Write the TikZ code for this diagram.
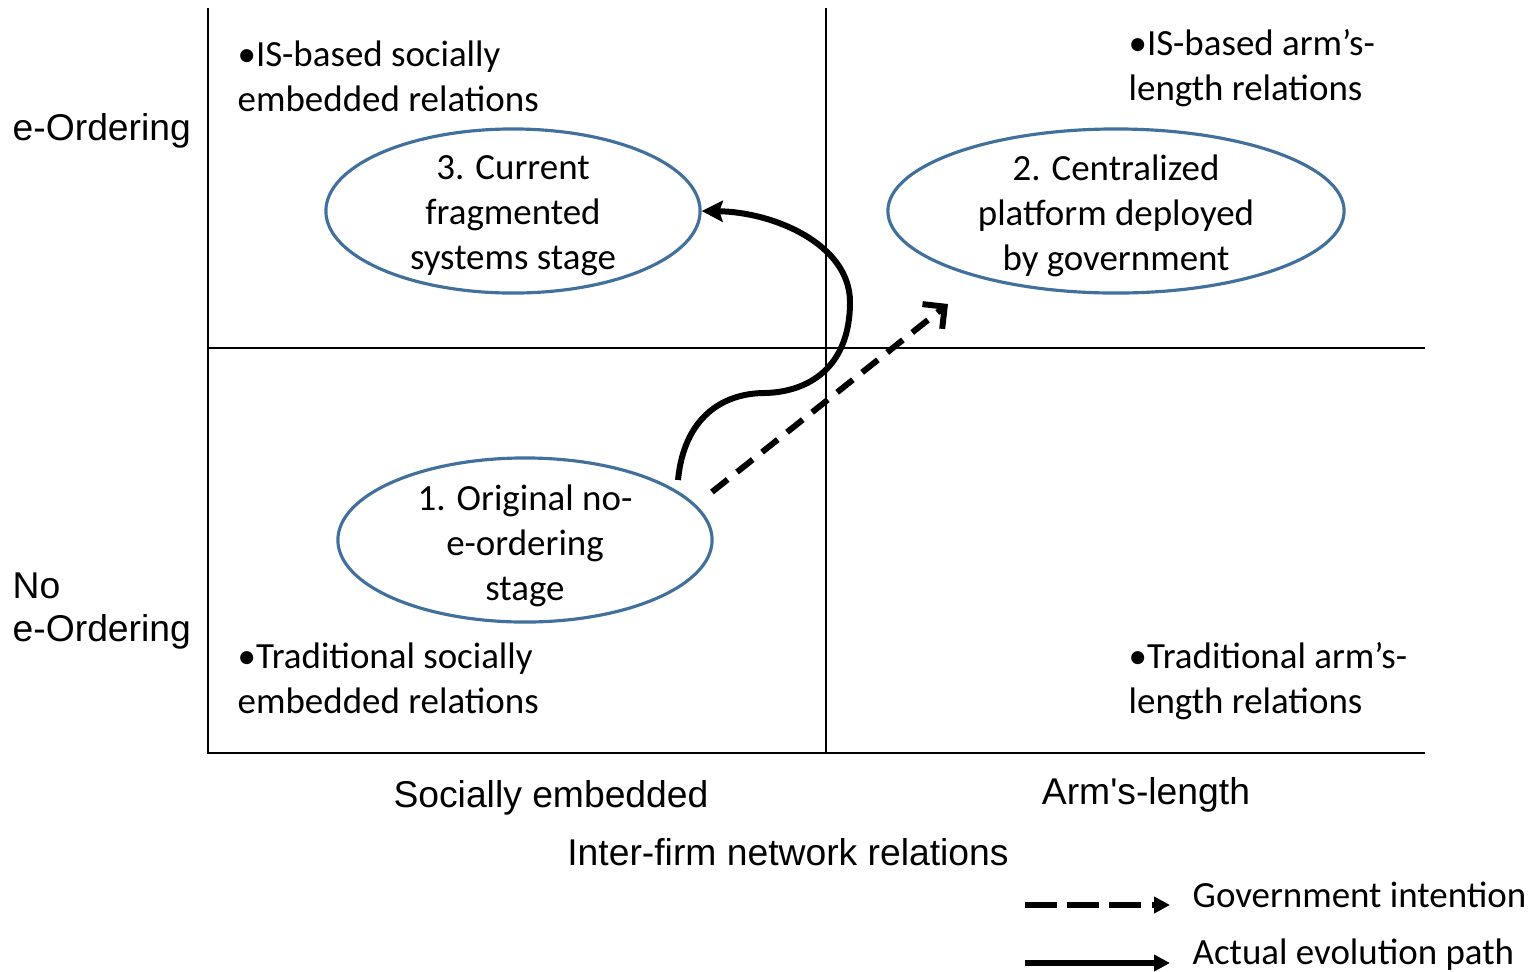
\documentclass[tikz,border=0pt]{standalone}
\usepackage{fontspec}
\setmainfont{Carlito}
\newfontfamily\arialfont{Liberation Sans}
\usetikzlibrary{shapes.geometric,arrows.meta}
\definecolor{stageblue}{HTML}{41709C}
\begin{document}
\begin{tikzpicture}[x=0.01cm,y=-0.01cm,
  gridline/.style={line width=0.5pt},
  stage/.style={ellipse, draw=stageblue, line width=0.9pt, inner sep=0pt, minimum height=1.64cm},
  stagetext/.style={align=center, inner sep=0pt, font=\fontsize{10.5}{12.8}\selectfont},
  cell/.style={anchor=west, align=left, inner sep=0pt, font=\fontsize{10.5}{12.8}\selectfont},
  axis/.style={inner sep=0pt, font=\arialfont\fontsize{10.6}{12.2}\selectfont},
  actual/.style={line width=1.7pt, -{Stealth[length=6pt,width=6pt,inset=1pt]}},
  intended/.style={line width=1.7pt, dash pattern=on 5.7pt off 3.4pt, -{Straight Barb[length=4.5pt,width=9pt]}},
  legendtext/.style={anchor=west, inner sep=0pt, font=\fontsize{10.5}{12.8}\selectfont}
]
\useasboundingbox (0,0) rectangle (1535,972);

% quadrant grid
\draw[gridline] (208,8) -- (208,753) -- (1425,753);
\draw[gridline] (826,8) -- (826,753);
\draw[gridline] (208,348) -- (1425,348);

% row labels
\node[axis, anchor=west] (rowtop) at (12,131) {e-Ordering};
\node[axis, anchor=west, align=left] (rowbot) at (12,611) {No\\e-Ordering};

% column labels
\node[axis] (colleft) at (551,798) {Socially embedded};
\node[axis] (colright) at (1146,795) {Arm's-length};
\node[axis] (colaxis) at (788,852) {Inter-firm network relations};

% quadrant descriptions
\node[cell] (q1) at (237,76) {•IS-based socially\\embedded relations};
\node[cell] (q2) at (1128,68) {•IS-based arm’s-\\length relations};
\node[cell] (q3) at (237,678) {•Traditional socially\\embedded relations};
\node[cell] (q4) at (1128,681) {•Traditional arm’s-\\length relations};

% stages
\node[stage, minimum width=3.74cm] (s3) at (513,211) {};
\node[stagetext] (s3t) at (513,216) {3. Current\\fragmented\\systems stage};
\node[stage, minimum width=4.56cm] (s2) at (1116,211) {};
\node[stagetext] (s2t) at (1116,216) {2. Centralized\\platform deployed\\by government};
\node[stage, minimum width=3.74cm] (s1) at (525,540) {};
\node[stagetext] (s1t) at (525,546) {1. Original no-\\e-ordering\\stage};

% evolution paths
\coordinate (actualstart) at (678,480);
\coordinate (intstart) at (712,492);
\coordinate (intend) at (948,304);
\draw[actual] (actualstart) .. controls (684,418) and (722,393) .. (765,393)
  .. controls (808,392) and (850,368) .. (850,302)
  .. controls (850,245) and (775,212) .. (s3.east);
\draw[intended] (intstart) -- (intend);

% legend
\coordinate (lg1) at (1025,905);
\coordinate (lg2) at (1170,905);
\coordinate (la1) at (1025,963);
\coordinate (la2) at (1170,963);
\draw[line width=1.5pt, dash pattern=on 9pt off 3pt, -{Triangle[length=4.5pt,width=4.5pt]}] (lg1) -- (lg2);
\draw[line width=1.5pt, -{Triangle[length=4.5pt,width=4.5pt]}] (la1) -- (la2);
\node[legendtext] (lgt) at (1192,895) {Government intention};
\node[legendtext] (lat) at (1192,955) {Actual evolution path};
\end{tikzpicture}
\end{document}
